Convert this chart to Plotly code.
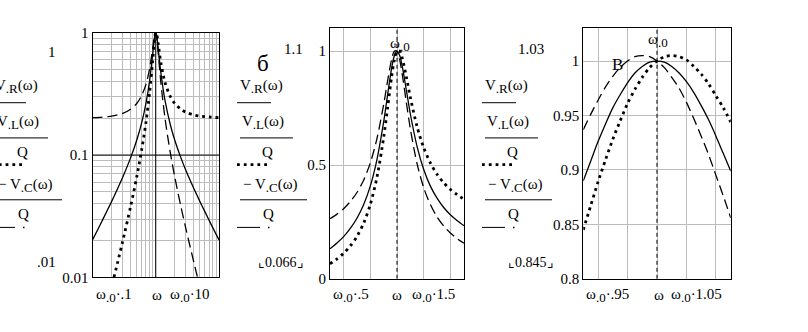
import plotly.graph_objects as go

W, H = 808, 332

# ---------------- data ----------------
# panel a: log-log, frequency in units of w0
x_a = [0.1, 0.13, 0.17, 0.2, 0.25, 0.3, 0.4, 0.5, 0.6, 0.7, 0.8, 0.9, 0.95, 0.975, 1.0,
       1.025, 1.05, 1.1, 1.2, 1.4, 1.7, 2, 2.5, 3, 4, 5, 6, 7.5, 10]
vr_a = [0.0202, 0.0264, 0.0350, 0.0416, 0.0533, 0.0658, 0.0948, 0.132, 0.184, 0.265, 0.406, 0.688,
        0.890, 0.969, 1.0, 0.971, 0.899, 0.723, 0.479, 0.280, 0.177, 0.132, 0.0948, 0.0748, 0.0533,
        0.0416, 0.0343, 0.0271, 0.0202]
vl_a = [0.0020, 0.0034, 0.0060, 0.0083, 0.0133, 0.0197, 0.0379, 0.066, 0.111, 0.185, 0.325, 0.619,
        0.845, 0.945, 1.0, 0.995, 0.944, 0.796, 0.575, 0.392, 0.301, 0.264, 0.237, 0.224, 0.213,
        0.208, 0.206, 0.204, 0.202]
vc_a = [0.202, 0.203, 0.206, 0.208, 0.213, 0.219, 0.237, 0.264, 0.307, 0.378, 0.508, 0.764,
        0.937, 0.994, 1.0, 0.947, 0.856, 0.657, 0.399, 0.200, 0.104, 0.066, 0.0379, 0.0249, 0.0133,
        0.0083, 0.0057, 0.0036, 0.0020]

# panel b: linear, 0.5..1.5 w0
x_b = [0.5, 0.55, 0.6, 0.65, 0.7, 0.75, 0.8, 0.85, 0.9, 0.93, 0.96, 0.98, 1.0, 1.02, 1.04,
       1.07, 1.1, 1.15, 1.2, 1.25, 1.3, 1.35, 1.4, 1.45, 1.5]
vr_b = [0.132, 0.156, 0.184, 0.220, 0.265, 0.324, 0.406, 0.523, 0.688, 0.809, 0.926, 0.980, 1.000,
        0.981, 0.931, 0.828, 0.723, 0.581, 0.479, 0.406, 0.353, 0.312, 0.280, 0.255, 0.233]
vl_b = [0.066, 0.086, 0.111, 0.143, 0.185, 0.243, 0.325, 0.445, 0.619, 0.752, 0.889, 0.961, 1.000,
        1.001, 0.968, 0.886, 0.796, 0.668, 0.575, 0.508, 0.458, 0.421, 0.392, 0.369, 0.350]
vc_b = [0.264, 0.283, 0.307, 0.338, 0.378, 0.432, 0.508, 0.615, 0.764, 0.870, 0.964, 1.000, 1.000,
        0.962, 0.895, 0.774, 0.657, 0.505, 0.399, 0.325, 0.271, 0.231, 0.200, 0.176, 0.156]

# panel c: linear, 0.95..1.05 w0
x_c = [0.95, 0.955, 0.96, 0.965, 0.97, 0.975, 0.98, 0.985, 0.99, 0.995, 1.0, 1.005, 1.01,
       1.015, 1.02, 1.025, 1.03, 1.035, 1.04, 1.045, 1.05]
vr_c = [0.890, 0.908, 0.926, 0.942, 0.957, 0.969, 0.980, 0.989, 0.995, 0.999, 1.000, 0.999, 0.995,
        0.989, 0.981, 0.971, 0.959, 0.946, 0.931, 0.915, 0.899]
vl_c = [0.845, 0.867, 0.889, 0.909, 0.928, 0.945, 0.961, 0.974, 0.985, 0.994, 1.000, 1.004, 1.005,
        1.004, 1.001, 0.995, 0.988, 0.979, 0.968, 0.957, 0.944]
vc_c = [0.937, 0.951, 0.964, 0.976, 0.986, 0.994, 1.000, 1.004, 1.005, 1.004, 1.000, 0.994, 0.985,
        0.975, 0.962, 0.947, 0.931, 0.914, 0.895, 0.876, 0.856]

# axis ranges / ticks
xr_a, yr_a = [-1, 1], [-2, 0]          # log10 ranges
xr_b, yr_b = [0.5, 1.5], [0, 1.1]
xr_c, yr_c = [0.95, 1.05], [0.8, 1.03]
mant = [1, 2, 3, 4, 5, 6, 7, 8, 9]
xgrid_a = [m * d for d in (0.1, 1) for m in mant] + [10]
ygrid_a = [m * d for d in (0.01, 0.1) for m in mant] + [1]
ylab_a = {0.01: "0.01", 0.1: "0.1", 1: "1"}
xgrid_b = [0.6, 0.8, 1.0, 1.2, 1.4]
ytick_b, ylab_b = [0, 0.5, 1], ["0", "0.5", "1"]
xgrid_c = [0.96, 0.98, 1.0, 1.02, 1.04]
ytick_c, ylab_c = [0.8, 0.85, 0.9, 0.95, 1.0], ["0.8", "0.85", "0.9", "0.95", "1"]
w0 = 1.0        # marker at resonance
ymark_a = 0.1   # horizontal marker in panel a

# ---------------- helpers ----------------
FONT = "Times New Roman, Liberation Serif, DejaVu Serif, serif"
FS = 15
GRID = "#bcbcbc"


def sub(s):
    return "<sub><span style='font-size:13px'>" + s + "</span></sub>"


def px(x):
    return x / W


def py(y):
    return 1 - y / H


def dom_x(a, b):
    return [px(a), px(b)]


def dom_y(top, bottom):
    return [py(bottom), py(top)]


fig = go.Figure()

SOLID = dict(color="black", width=1.3)
DOT = dict(color="black", width=2.8, dash="2.8px,4px")
DASH = dict(color="black", width=1.3, dash="10px,5px")


def add_set(x, vr, vl, vc, xa, ya):
    fig.add_trace(go.Scatter(x=x, y=vr, mode="lines", line=dict(**SOLID, shape="spline", smoothing=0.8),
                             xaxis=xa, yaxis=ya, showlegend=False, hoverinfo="skip"))
    fig.add_trace(go.Scatter(x=x, y=vl, mode="lines", line=dict(**DOT, shape="spline", smoothing=0.8),
                             xaxis=xa, yaxis=ya, showlegend=False, hoverinfo="skip"))
    fig.add_trace(go.Scatter(x=x, y=vc, mode="lines", line=dict(**DASH, shape="spline", smoothing=0.8),
                             xaxis=xa, yaxis=ya, showlegend=False, hoverinfo="skip"))


# marker lines
fig.add_trace(go.Scatter(x=[w0, w0], y=[10 ** yr_a[0], 10 ** yr_a[1]], mode="lines",
                         line=dict(color="black", width=1), xaxis="x", yaxis="y",
                         showlegend=False, hoverinfo="skip"))
fig.add_trace(go.Scatter(x=[10 ** xr_a[0], 10 ** xr_a[1]], y=[ymark_a, ymark_a], mode="lines",
                         line=dict(color="black", width=1), xaxis="x", yaxis="y",
                         showlegend=False, hoverinfo="skip"))
fig.add_trace(go.Scatter(x=[w0, w0], y=yr_b, mode="lines",
                         line=dict(color="black", width=1, dash="4px,3px"), xaxis="x2", yaxis="y2",
                         showlegend=False, hoverinfo="skip"))
fig.add_trace(go.Scatter(x=[w0, w0], y=yr_c, mode="lines",
                         line=dict(color="black", width=1, dash="4px,3px"), xaxis="x3", yaxis="y3",
                         showlegend=False, hoverinfo="skip"))

add_set(x_a, vr_a, vl_a, vc_a, "x", "y")
add_set(x_b, vr_b, vl_b, vc_b, "x2", "y2")
add_set(x_c, vr_c, vl_c, vc_c, "x3", "y3")

tickfont = dict(family=FONT, size=FS, color="black")
common = dict(showline=True, mirror=True, linecolor="black", linewidth=1, showgrid=True,
              gridcolor=GRID, gridwidth=1, zeroline=False, ticks="", tickfont=tickfont,
              tickmode="array", fixedrange=True)

layout_axes = dict(
    xaxis=dict(type="log", range=xr_a, domain=dom_x(92.5, 219), anchor="y",
               tickvals=xgrid_a, showticklabels=False, **common),
    yaxis=dict(type="log", range=yr_a, domain=dom_y(26, 283), anchor="x",
               tickvals=ygrid_a, ticktext=[ylab_a.get(v, "") for v in ygrid_a], **common),
    xaxis2=dict(range=xr_b, domain=dom_x(330, 464), anchor="y2",
                tickvals=xgrid_b, showticklabels=False, **common),
    yaxis2=dict(range=yr_b, domain=dom_y(21.5, 284.5), anchor="x2",
                tickvals=ytick_b, ticktext=ylab_b, **common),
    xaxis3=dict(range=xr_c, domain=dom_x(583.3, 730.7), anchor="y3",
                tickvals=xgrid_c, showticklabels=False, **common),
    yaxis3=dict(range=yr_c, domain=dom_y(21.4, 284.5), anchor="x3",
                tickvals=ytick_c, ticktext=ylab_c, **common),
)

ann = []
shapes = []


def text(t, x, y, xanchor="left", size=FS):
    ann.append(dict(text=t, x=px(x), y=py(y), xref="paper", yref="paper", showarrow=False,
                    xanchor=xanchor, yanchor="middle", borderpad=0,
                    font=dict(family=FONT, size=size, color="black")))


def seg(x0, x1, y, width=1, dash="solid"):
    shapes.append(dict(type="line", xref="paper", yref="paper", x0=px(x0), x1=px(x1),
                       y0=py(y), y1=py(y), line=dict(color="black", width=width, dash=dash)))


def legend_block(X0):
    text("V" + sub(".R") + "(ω)", X0 + 2, 82)
    seg(X0, X0 + 34, 99.5)
    text("V" + sub(".L") + "(ω)", X0 + 4, 120)
    seg(X0 + 3, X0 + 56, 136.5)
    text("Q", X0 + 30, 151, "center")
    seg(X0, X0 + 30, 164.5, width=2.8, dash="2.8px,4px")
    text("− V" + sub(".C") + "(ω)", X0 + 5, 186)
    seg(X0 + 3, X0 + 70, 201.5)
    text("Q", X0 + 31, 216, "center")
    seg(X0, X0 + 23, 230.5)
    seg(X0 + 31, X0 + 32.5, 230.5, width=1.5)


legend_block(-8)
legend_block(237)
legend_block(482)

# limit placeholders
text("1", 52, 46, "center")
text(".01", 46, 267, "center")
text("б", 263, 58, "center", size=23)
text("1.1", 293, 43, "center")
text("⌞0.066⌟", 281, 267, "center", size=14)
text("1.03", 531, 43, "center")
text("⌞0.845⌟", 531, 267, "center", size=14)

# x-axis labels
text("ω" + sub(".0") + "·.1", 95, 302)
text("ω", 157, 302, "center")
text("ω" + sub(".0") + "·10", 211, 302, "right")
text("ω" + sub(".0") + "·.5", 332, 302)
text("ω", 397, 302, "center")
text("ω" + sub(".0") + "·1.5", 456, 302, "right")
text("ω" + sub(".0") + "·.95", 585, 302)
text("ω", 659, 302, "center")
text("ω" + sub(".0") + "·1.05", 723, 302, "right")

# marker labels
text("ω" + sub(".0"), 389, 38)
text("ω" + sub(".0"), 647, 34)
text("В", 617, 59, "center", size=17)

fig.update_layout(
    width=W, height=H, margin=dict(l=0, r=0, t=0, b=0, pad=0),
    paper_bgcolor="white", plot_bgcolor="white", showlegend=False,
    annotations=ann, shapes=shapes, **layout_axes,
)

fig.write_html("out.html", config={"displayModeBar": False})
